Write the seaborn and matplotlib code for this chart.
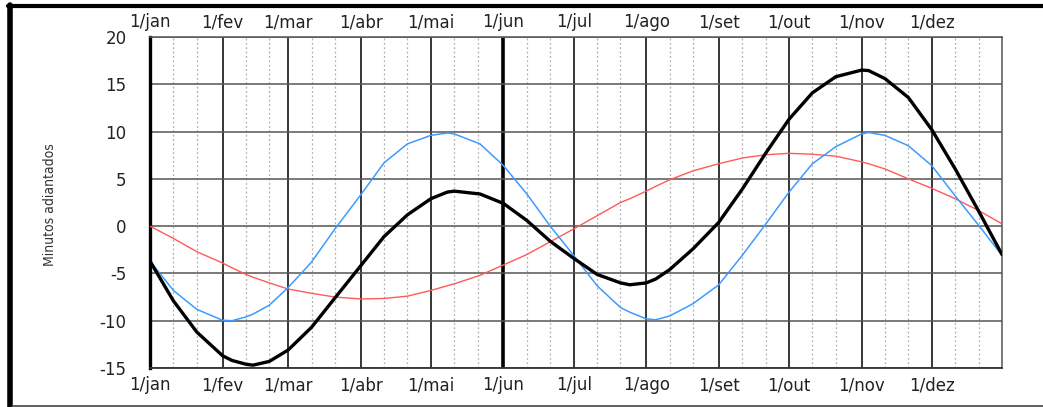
import numpy as np
import pandas as pd
import matplotlib
matplotlib.use("Agg")
import matplotlib.pyplot as plt
from matplotlib.lines import Line2D
import seaborn as sns

days = [0, 10, 20, 31, 35, 41, 44, 51, 59, 69, 79, 90, 100, 110, 120, 127, 130,
        141, 151, 161, 171, 181, 191, 201, 205, 212, 216, 222, 232, 243, 253,
        263, 273, 283, 293, 304, 307, 314, 324, 334, 344, 354, 364]

# total equation of time (black)
total = [-3.7, -7.9, -11.2, -13.7, -14.2, -14.6, -14.7, -14.3, -13.1, -10.7, -7.6,
         -4.2, -1.1, 1.2, 2.9, 3.6, 3.7, 3.4, 2.4, 0.6, -1.6, -3.4, -5.1, -6.0,
         -6.2, -6.0, -5.6, -4.6, -2.4, 0.4, 3.9, 7.7, 11.3, 14.1, 15.8, 16.5,
         16.45, 15.6, 13.6, 10.2, 6.05, 1.6, -3.0]

# obliquity component (blue)
obliquity = [-3.7, -6.8, -8.8, -9.95, -10.0, -9.6, -9.3, -8.35, -6.5, -3.8, -0.3,
             3.3, 6.7, 8.7, 9.6, 9.85, 9.75, 8.7, 6.4, 3.4, 0.0, -3.1, -6.3, -8.6,
             -9.1, -9.8, -9.9, -9.5, -8.2, -6.2, -3.1, 0.2, 3.6, 6.6, 8.4, 9.75,
             9.9, 9.6, 8.5, 6.4, 3.2, 0.1, -3.1]

# eccentricity component (red)
eccentricity = [0.0, -1.3, -2.7, -3.9, -4.4, -5.1, -5.4, -6.0, -6.65, -7.1, -7.5,
                -7.7, -7.65, -7.4, -6.8, -6.3, -6.1, -5.2, -4.1, -3.0, -1.65, -0.3,
                1.1, 2.5, 2.9, 3.7, 4.2, 4.9, 5.85, 6.6, 7.2, 7.55, 7.7, 7.6, 7.4,
                6.8, 6.6, 6.05, 5.0, 4.0, 2.9, 1.65, 0.25]

month_days = [0, 31, 59, 90, 120, 151, 181, 212, 243, 273, 304, 334]
month_labels = ["1/jan", "1/fev", "1/mar", "1/abr", "1/mai", "1/jun",
                "1/jul", "1/ago", "1/set", "1/out", "1/nov", "1/dez"]
y_ticks = [-15, -10, -5, 0, 5, 10, 15, 20]

sns.set_style("white")
plt.rcParams["axes.unicode_minus"] = False
plt.rcParams["font.family"] = ["DejaVu Sans"]

df = pd.DataFrame({"dia": days, "total": total,
                   "obliquidade": obliquity, "excentricidade": eccentricity})

fig = plt.figure(figsize=(10.43, 4.07), dpi=100)
ax = fig.add_axes([150 / 1043, 39 / 407, 852 / 1043, 331 / 407])

sns.lineplot(data=df, x="dia", y="excentricidade", ax=ax, color="#ff5a5a", lw=1.0, zorder=3)
sns.lineplot(data=df, x="dia", y="obliquidade", ax=ax, color="#3d9bff", lw=1.1, zorder=4)
sns.lineplot(data=df, x="dia", y="total", ax=ax, color="black", lw=2.4, zorder=5)

ax.set_xlim(0, 364)
ax.set_ylim(-15, 20)

# major grid: months and every 5 minutes
ax.set_xticks(month_days)
ax.set_xticklabels(month_labels)
ax.set_yticks(y_ticks)
ax.set_yticklabels([str(v) for v in y_ticks])
minor = [m + d for m in month_days for d in (10, 20)]
ax.set_xticks(minor, minor=True)
ax.grid(axis="x", which="major", color="black", lw=1.1)
ax.grid(axis="y", which="major", color="#555555", lw=1.1)
ax.grid(axis="x", which="minor", color="#b0b0b0", lw=0.9, ls=(0, (1.5, 2)))
ax.get_xgridlines()[5].set_linewidth(2.6)
ax.set_axisbelow(True)

lab_size = 12
ax.tick_params(axis="x", which="both", length=0, pad=6, labelsize=lab_size, labelcolor="#222222")
ax.tick_params(axis="y", length=0, pad=17, labelsize=lab_size, labelcolor="#222222")
ax.set_xlabel("")
ax.set_ylabel("")

top = ax.secondary_xaxis("top")
top.set_xticks(month_days)
top.set_xticklabels(month_labels)
top.tick_params(length=0, pad=4, labelsize=lab_size, labelcolor="#222222")
top.spines["top"].set_visible(False)

for side in ["top", "right"]:
    ax.spines[side].set_color("#555555")
    ax.spines[side].set_linewidth(1.1)
ax.spines["left"].set_color("black")
ax.spines["left"].set_linewidth(2.4)
ax.spines["bottom"].set_color("#333333")
ax.spines["bottom"].set_linewidth(1.3)

fig.text(50 / 1043, 1 - 205 / 407, "Minutos adiantados", rotation=90,
         ha="center", va="center", fontsize=10, color="#333333",
         family=["Liberation Sans Narrow", "DejaVu Sans"], stretch="condensed")

# frame around the picture
fig.add_artist(Line2D([10 / 1043, 10 / 1043], [0, 1 - 5 / 407], color="black", lw=4))
fig.add_artist(Line2D([8 / 1043, 1], [1 - 6 / 407, 1 - 6 / 407], color="black", lw=3))
fig.add_artist(Line2D([12 / 1043, 1], [1.5 / 407, 1.5 / 407], color="#444444", lw=1.2))

fig.savefig("out.png", dpi=100)
